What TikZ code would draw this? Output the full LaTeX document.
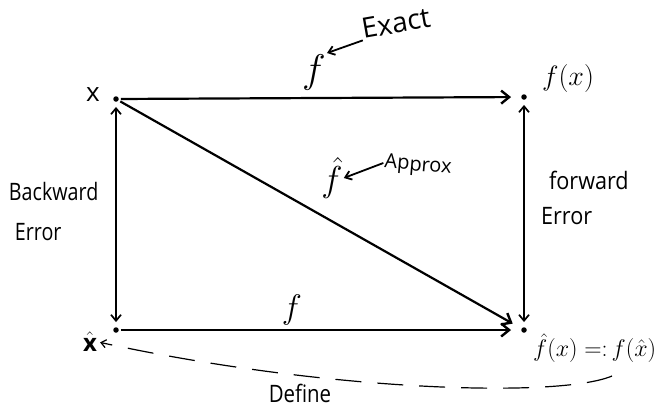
\RequirePackage{fix-cm}
\documentclass[tikz,border=0pt]{standalone}
\usepackage{fontspec}
\setmainfont{Open Sans}
\usetikzlibrary{arrows.meta}
\newcommand{\fsz}[1]{\fontsize{#1}{#1}\selectfont}
\begin{document}
\begin{tikzpicture}[x=1pt,y=-1pt,
  dot/.style={circle,fill=black,inner sep=0pt,minimum size=5.5pt},
  lbl/.style={inner sep=1pt},
  main/.style={line width=2.2pt,shorten >=10pt,shorten <=2pt,-{Straight Barb[length=8pt,width=13pt,line width=2.4pt]}},
  err/.style={line width=1.7pt,shorten >=5pt,shorten <=5pt,{Straight Barb[length=6pt,width=10pt]}-{Straight Barb[length=6pt,width=10pt]}},
  note/.style={line width=1.8pt,-{Straight Barb[length=6pt,width=9pt]}}]
\useasboundingbox (0,0) rectangle (671,408);
% points
\node[dot] (x) at (116,99) {};
\node[dot] (fx) at (524,97) {};
\node[dot] (xh) at (116,330) {};
\node[dot] (fhx) at (524,330) {};
% point labels
\node[lbl,font=\fsz{26}] (xl) at (93,95) {x};
\node[lbl,font=\fsz{28}] (fxl) at (568,78) {$f(x)$};
\node[lbl,font=\fsz{24}] (xhl) at (90,342) {$\hat{\mathbf{x}}$};
\node[lbl,anchor=west,font=\fsz{24}] (fhxl) at (532,348) {$\hat f(x) =\colon f(\hat x)$};
% main arrows
\draw[main] (x) -- (fx);
\draw[main] (xh) -- (fhx);
\draw[main] (x) -- (fhx);
\draw[err] (x) -- (xh);
\draw[err] (fx) -- (fhx);
% labels on arrows
\node[lbl,font=\fsz{40}] (f1) at (314,72) {$f$};
\node[lbl,font=\fsz{34}] (f2) at (292,310) {$f$};
\node[lbl,font=\fsz{36}] (f3) at (332,178) {$\hat f$};
\node[lbl,font=\fsz{28},rotate=10] (exact) at (396,23) {Exact};
\node[lbl,font=\fsz{20},rotate=-5] (approx) at (418,166) {Approx};
\draw[note] (exact.south west) -- (f1.north east);
\draw[note] (approx.west) -- (f3.east);
% error labels
\node[lbl,font=\fsz{24},xscale=0.82,anchor=west] (be1) at (8,191) {Backward};
\node[lbl,font=\fsz{24},xscale=0.82,anchor=west] (be2) at (14,232) {Error};
\node[lbl,font=\fsz{24},xscale=0.9,anchor=west] (fe1) at (548,180) {forward};
\node[lbl,font=\fsz{24},xscale=0.9,anchor=west] (fe2) at (540,216) {Error};
% define curve
\coordinate (ds) at (612,376);
\draw[line width=1.2pt,dash pattern=on 26pt off 16pt,shorten >=2pt,-{Straight Barb[length=5pt,width=8pt]}]
  (ds) .. controls (560,398) and (330,392) .. (xhl.east);
\node[lbl,font=\fsz{24},xscale=0.85] (def) at (300,393) {Define};
\end{tikzpicture}
\end{document}
